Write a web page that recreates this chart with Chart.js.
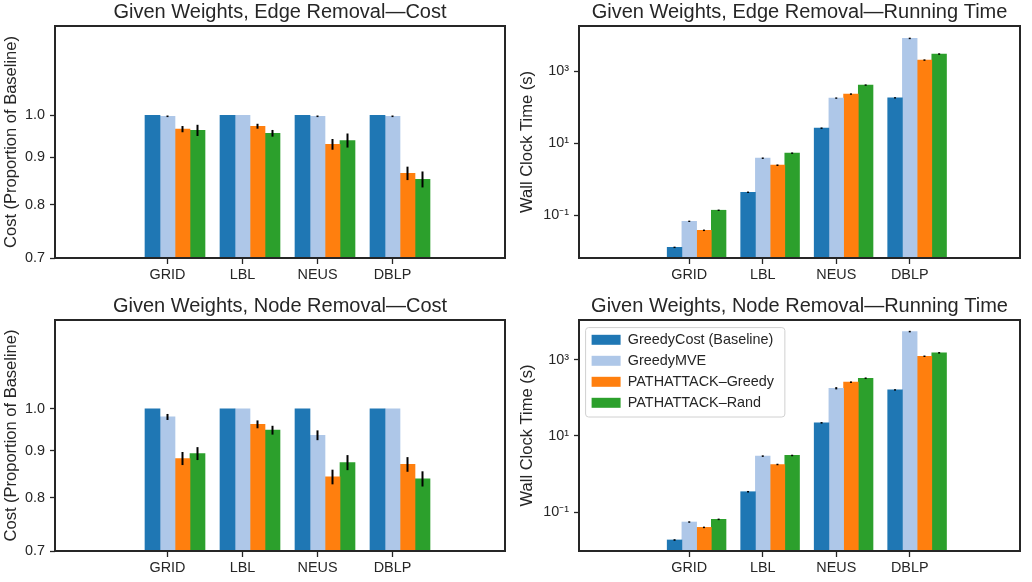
<!DOCTYPE html>
<html>
<head>
<meta charset="utf-8">
<script src="https://cdn.jsdelivr.net/npm/chart.js@4.4.1/dist/chart.umd.min.js"></script>
<style>
  body { margin: 0; background: #fff; }
  #page { position: relative; width: 1032px; height: 582px; overflow: hidden; }
  canvas { position: absolute; }
</style>
</head>
<body>
<div id="page">
  <canvas id="edgeCost" width="516" height="291" style="left:0;top:0"></canvas>
  <canvas id="edgeTime" width="516" height="291" style="left:516px;top:0"></canvas>
  <canvas id="nodeCost" width="516" height="291" style="left:0;top:291px"></canvas>
  <canvas id="nodeTime" width="516" height="291" style="left:516px;top:291px"></canvas>
</div>
<script>
// data
const categories = ['GRID', 'LBL', 'NEUS', 'DBLP'];
const seriesNames = ['GreedyCost (Baseline)', 'GreedyMVE', 'PATHATTACK\u2013Greedy', 'PATHATTACK\u2013Rand'];
const seriesColors = ['#1f77b4', '#aec7e8', '#ff7f0e', '#2ca02c'];

// rows follow seriesNames, columns follow categories
const edgeCostVals = [
  [1.000, 1.000, 1.000, 1.000],
  [0.9975, 1.000, 0.9975, 0.9975],
  [0.966, 0.973, 0.930, 0.865],
  [0.963, 0.956, 0.939, 0.852]
];
const edgeCostErr = [
  [0, 0, 0, 0],
  [0.002, 0, 0.002, 0.002],
  [0.0075, 0.006, 0.0125, 0.0145],
  [0.0135, 0.008, 0.0165, 0.017]
];
const nodeCostVals = [
  [1.000, 1.000, 1.000, 1.000],
  [0.980, 1.000, 0.936, 1.000],
  [0.883, 0.962, 0.843, 0.870],
  [0.894, 0.948, 0.874, 0.839]
];
const nodeCostErr = [
  [0, 0, 0, 0],
  [0.0074, 0, 0.0115, 0],
  [0.0145, 0.0095, 0.0155, 0.016],
  [0.0145, 0.0105, 0.0165, 0.016]
];
const edgeTimeVals = [
  [0.0129, 0.435, 26.1, 181],
  [0.068, 3.83, 178, 8070],
  [0.0383, 2.45, 230, 2020],
  [0.138, 5.28, 409, 2970]
];
const edgeTimeErr = [
  [0.0006, 0.02, 1.2, 8],
  [0.003, 0.18, 8, 380],
  [0.0018, 0.12, 11, 95],
  [0.006, 0.25, 19, 140]
];
const nodeTimeVals = [
  [0.0185, 0.341, 21.9, 160],
  [0.0547, 2.93, 177, 5420],
  [0.0396, 1.77, 255, 1220],
  [0.0643, 3.05, 324, 1500]
];
const nodeTimeErr = [
  [0.0009, 0.016, 1, 7],
  [0.0025, 0.14, 12, 250],
  [0.0018, 0.08, 12, 55],
  [0.003, 0.14, 15, 70]
];

const costTicks = [0.7, 0.8, 0.9, 1.0];
const timeTicks = [0.1, 10, 1000];
const timeTickLabels = ['10\u207B\u00B9', '10\u00B9', '10\u00B3'];

const costRange = [0.7, 1.25];
const edgeTimeRange = [0.00653, 17800];
const nodeTimeRange = [0.0095, 10900];

const ink = '#262626';
Chart.defaults.font.family = "'Liberation Sans', Arial, sans-serif";
Chart.defaults.color = ink;

// black vertical error bars through the bar tops
const errorBars = {
  id: 'errorBars',
  afterDatasetsDraw(chart) {
    const ctx = chart.ctx;
    const y = chart.scales.y;
    ctx.save();
    ctx.strokeStyle = '#000';
    ctx.lineWidth = 2;
    chart.data.datasets.forEach((ds, i) => {
      if (!ds.errors) return;
      chart.getDatasetMeta(i).data.forEach((bar, j) => {
        const e = ds.errors[j];
        if (!e) return;
        const v = ds.data[j].y;
        ctx.beginPath();
        ctx.moveTo(bar.x, y.getPixelForValue(v + e));
        ctx.lineTo(bar.x, y.getPixelForValue(v - e));
        ctx.stroke();
      });
    });
    ctx.restore();
  }
};

// matplotlib style box around the axes
const frame = {
  id: 'frame',
  afterDatasetsDraw(chart) {
    const a = chart.chartArea;
    const ctx = chart.ctx;
    ctx.save();
    ctx.strokeStyle = ink;
    ctx.lineWidth = 2;
    ctx.strokeRect(a.left, a.top, a.right - a.left, a.bottom - a.top);
    ctx.restore();
  }
};

// put the legend in the upper left of the axes, with a rounded frame
const legendBox = {
  id: 'legendBox',
  afterLayout(chart, args, opts) {
    const lg = chart.legend;
    if (!lg || !lg.options.display) return;
    const a = chart.chartArea;
    const h = lg.bottom - lg.top;
    lg.left = a.left + opts.dx;
    lg.right = a.right;
    lg.top = a.top + opts.dy;
    lg.bottom = lg.top + h;
  },
  beforeDraw(chart) {
    const lg = chart.legend;
    if (!lg || !lg.options.display || !lg.legendHitBoxes.length) return;
    const hb = lg.legendHitBoxes;
    const x0 = Math.min(...hb.map(h => h.left)) - 6;
    const x1 = Math.max(...hb.map(h => h.left + h.width)) + 11;
    const y0 = hb[0].top - 5;
    const last = hb[hb.length - 1];
    const y1 = last.top + last.height + 7;
    const ctx = chart.ctx;
    ctx.save();
    ctx.beginPath();
    ctx.roundRect(x0, y0, x1 - x0, y1 - y0, 3);
    ctx.fillStyle = 'rgba(255,255,255,0.8)';
    ctx.fill();
    ctx.strokeStyle = '#d0d0d0';
    ctx.lineWidth = 1;
    ctx.stroke();
    ctx.restore();
  }
};

function buildDatasets(vals, errs) {
  // first slot is left empty, so each group sits like the original 5-wide grouping
  const sets = [{ label: '', data: [] }];
  vals.forEach((row, s) => {
    sets.push({
      label: seriesNames[s],
      data: row.map((v, i) => ({ x: i, y: v })),
      errors: errs[s],
      backgroundColor: seriesColors[s],
      borderWidth: 0
    });
  });
  return sets;
}

function makeChart(id, cfg) {
  return new Chart(document.getElementById(id), {
    type: 'bar',
    data: { datasets: buildDatasets(cfg.vals, cfg.errs) },
    options: {
      responsive: false,
      animation: false,
      categoryPercentage: 1.0,
      barPercentage: 1.0,
      layout: { padding: { left: 0, right: cfg.padRight, top: 0, bottom: 0 } },
      plugins: {
        title: {
          display: true,
          text: cfg.title,
          fullSize: false,
          color: ink,
          font: { size: 20, weight: 'normal' },
          padding: { top: cfg.titleTop, bottom: 2 }
        },
        legend: {
          display: !!cfg.legend,
          position: 'chartArea',
          align: 'start',
          labels: {
            boxWidth: 29,
            boxHeight: 10,
            padding: 6.6,
            color: ink,
            font: { size: 14.4 },
            filter: item => item.text !== ''
          }
        },
        legendBox: { dx: 6, dy: 6 },
        tooltip: { enabled: false }
      },
      scales: {
        x: {
          type: 'linear',
          min: -1.5,
          max: 4.5,
          offset: false,
          grid: { offset: false, drawOnChartArea: false, tickLength: 6, tickColor: ink, tickWidth: 1.3 },
          border: { display: false },
          afterBuildTicks: s => { s.ticks = categories.map((c, i) => ({ value: i })); },
          afterFit: s => { s.height = cfg.xHeight; },
          ticks: {
            autoSkip: false,
            maxRotation: 0,
            padding: 2,
            color: ink,
            font: { size: 14.4 },
            callback: v => categories[v]
          }
        },
        y: {
          type: 'logarithmic',
          min: cfg.range[0],
          max: cfg.range[1],
          grid: { drawOnChartArea: false, tickLength: 5, tickColor: ink, tickWidth: 1.3 },
          border: { display: false },
          afterBuildTicks: s => { s.ticks = cfg.ticks.map(v => ({ value: v })); },
          afterFit: s => { s.width = cfg.yWidth; },
          ticks: {
            padding: 5,
            color: ink,
            font: { size: 14.4 },
            callback: cfg.tickLabel
          },
          title: {
            display: true,
            text: cfg.yLabel,
            color: ink,
            font: { size: 16.5 },
            padding: { top: 2, bottom: 0 }
          }
        }
      }
    },
    plugins: [errorBars, frame, legendBox]
  });
}

const costLabel = v => v.toFixed(1);
const timeLabel = v => timeTickLabels[timeTicks.indexOf(v)];

makeChart('edgeCost', {
  title: 'Given Weights, Edge Removal\u2014Cost',
  yLabel: 'Cost (Proportion of Baseline)',
  vals: edgeCostVals, errs: edgeCostErr,
  range: costRange, ticks: costTicks, tickLabel: costLabel,
  yWidth: 55, padRight: 11, titleTop: 0, xHeight: 33
});
makeChart('edgeTime', {
  title: 'Given Weights, Edge Removal\u2014Running Time',
  yLabel: 'Wall Clock Time (s)',
  vals: edgeTimeVals, errs: edgeTimeErr,
  range: edgeTimeRange, ticks: timeTicks, tickLabel: timeLabel,
  yWidth: 63, padRight: 12, titleTop: 0, xHeight: 33
});
makeChart('nodeCost', {
  title: 'Given Weights, Node Removal\u2014Cost',
  yLabel: 'Cost (Proportion of Baseline)',
  vals: nodeCostVals, errs: nodeCostErr,
  range: costRange, ticks: costTicks, tickLabel: costLabel,
  yWidth: 55, padRight: 11, titleTop: 3, xHeight: 31
});
makeChart('nodeTime', {
  title: 'Given Weights, Node Removal\u2014Running Time',
  yLabel: 'Wall Clock Time (s)',
  vals: nodeTimeVals, errs: nodeTimeErr,
  range: nodeTimeRange, ticks: timeTicks, tickLabel: timeLabel,
  yWidth: 63, padRight: 12, titleTop: 3, xHeight: 31,
  legend: true
});
</script>
</body>
</html>
